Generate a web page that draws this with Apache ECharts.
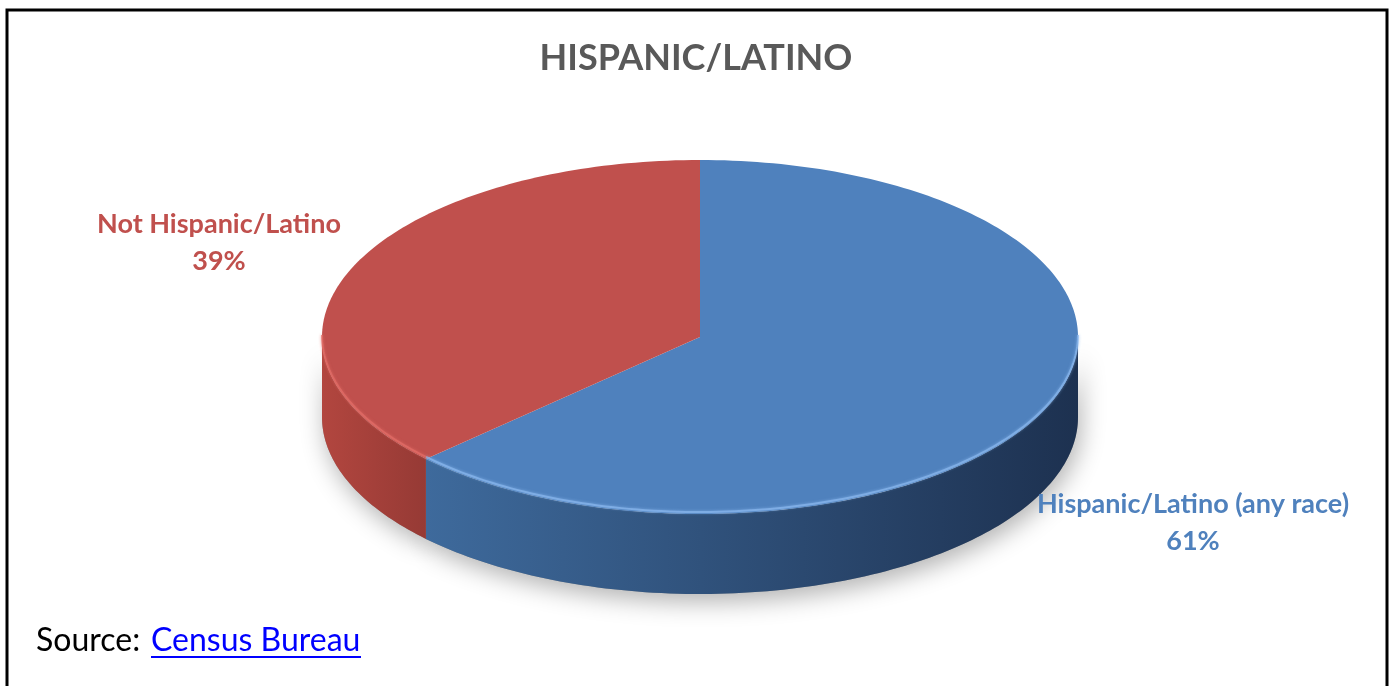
<!DOCTYPE html>
<html><head><meta charset="utf-8">
<script src="https://cdn.jsdelivr.net/npm/echarts@6/dist/echarts.min.js"></script>
<style>html,body{margin:0;padding:0;background:#fff;}#c{width:1392px;height:686px;}</style>
</head><body><div id="c"></div>
<script>
const categories = ['Hispanic/Latino (any race)', 'Not Hispanic/Latino'];
const values = [61, 39];
const titleText = 'HISPANIC/LATINO';
const sourceLabel = 'Source:';
const sourceLink = 'Census Bureau';

const topColors = ['#4f81bd', '#c0504d'];
const sideColors = [['#3e6a9c', '#1d3150'], ['#b2463f', '#963a35']];
const rimColors = ['#8ab8ee', '#e26d68'];
const labelColors = ['#4f81bd', '#c0504d'];
const labelPos = [[1193, 523], [219, 243]];
const CX = 700, CY = 337, RX = 378, RY = 177, DEPTH = 80, WARP = 7;

function renderItem(params, api) {
  const i = params.dataIndex;
  const total = values.reduce((a, b) => a + b, 0);
  let before = 0; for (let k = 0; k < i; k++) before += values[k];
  const v = api.value(0);
  const a1 = -90 + before / total * 360, a2 = a1 + v / total * 360;
  // mild perspective warp: front angles appear wider, back angles narrower
  const warp = (deg) => deg + WARP * Math.sin(2 * (deg - 90) * Math.PI / 180);
  const pt = (deg, dy) => { const r = warp(deg) * Math.PI / 180; return [CX + RX * Math.cos(r), CY + RY * Math.sin(r) + (dy || 0)]; };
  const arc = (s, e, dy) => { const pts = []; const n = Math.max(2, Math.ceil(Math.abs(e - s))); for (let k = 0; k <= n; k++) pts.push(pt(s + (e - s) * k / n, dy)); return pts; };
  const children = [];
  const s1 = Math.max(a1, 0), s2 = Math.min(a2, 180);
  if (s2 > s1) {
    const side = arc(s1, s2).concat(arc(s2, s1, DEPTH));
    children.push({ type: 'polygon', shape: { points: side }, style: { fill: '#999', shadowBlur: 24, shadowOffsetY: 8, shadowOffsetX: 3, shadowColor: 'rgba(0,0,0,0.3)' }, z2: 0 });
    children.push({ type: 'polygon', shape: { points: side }, style: { fill: new echarts.graphic.LinearGradient(0, 0, 1, 0, [{ offset: 0, color: sideColors[i][0] }, { offset: 1, color: sideColors[i][1] }]) }, z2: 1 });
  }
  const top = [[CX, CY]].concat(arc(a1, a2));
  children.push({ type: 'polygon', shape: { points: top }, style: { fill: topColors[i] }, z2: 2 });
  if (s2 > s1) children.push({ type: 'polyline', shape: { points: arc(s1, s2, -2) }, style: { stroke: rimColors[i], lineWidth: 2, fill: null, opacity: 0.7, shadowBlur: 3, shadowColor: rimColors[i] }, z2: 3 });
  children.push({ type: 'text', x: labelPos[i][0], y: labelPos[i][1], style: { text: categories[i] + '\n' + v + '%', fill: labelColors[i], fontFamily: 'Lato', fontWeight: 'bold', fontSize: 27, align: 'center', verticalAlign: 'middle', lineHeight: 37 }, z2: 4 });
  return { type: 'group', children };
}

const chart = echarts.init(document.getElementById('c'));
chart.setOption({
  animation: false,
  title: { text: titleText, left: 'center', top: 35, textStyle: { fontFamily: 'Lato', fontWeight: 'bold', fontSize: 36, color: '#595959' } },
  series: [{ type: 'custom', coordinateSystem: 'none', renderItem, data: values.map((v, i) => ({ name: categories[i], value: [v] })) }],
  graphic: [
    { type: 'rect', shape: { x: 7, y: 10, width: 1380, height: 700 }, style: { fill: null, stroke: '#000', lineWidth: 3 }, z: 10 },
    { type: 'text', x: 36, y: 641, style: { text: sourceLabel, fill: '#000', fontFamily: 'Lato', fontSize: 32, verticalAlign: 'middle' } },
    { type: 'text', x: 151, y: 641, style: { text: sourceLink, fill: '#0000ff', fontFamily: 'Lato', fontSize: 32, verticalAlign: 'middle' } },
    { type: 'line', shape: { x1: 151, y1: 657, x2: 361, y2: 657 }, style: { stroke: '#0000ff', lineWidth: 2 } }
  ]
});
</script></body></html>
